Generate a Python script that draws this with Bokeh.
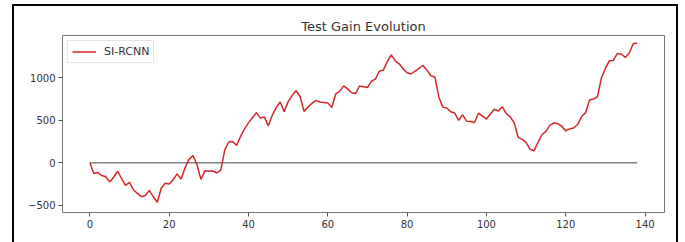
from bokeh.plotting import figure
from bokeh.models import Range1d, FixedTicker, Legend, LegendItem
from bokeh.embed import file_html
from bokeh.resources import INLINE

# ---- data ----
steps = list(range(139))
gain = [
    0, -125, -115, -150, -165, -225, -170, -100, -185, -265,
    -230, -320, -360, -400, -385, -325, -400, -465, -300, -240,
    -250, -200, -130, -190, -60, 40, 85, -20, -195, -95,
    -100, -95, -120, -90, 150, 245, 250, 205, 310, 400,
    470, 530, 590, 525, 540, 435, 560, 650, 715, 600,
    720, 790, 850, 780, 605, 655, 700, 735, 715, 710,
    705, 650, 810, 840, 905, 870, 825, 815, 905, 895,
    885, 960, 985, 1080, 1090, 1190, 1270, 1200, 1165, 1105,
    1060, 1045, 1080, 1110, 1145, 1090, 1025, 1010, 775, 655,
    645, 600, 585, 500, 565, 490, 485, 475, 585, 550,
    515, 575, 630, 610, 660, 580, 540, 470, 300, 275,
    240, 160, 140, 240, 330, 370, 440, 470, 460, 430,
    375, 400, 410, 450, 545, 590, 740, 750, 780, 1000,
    1110, 1200, 1205, 1285, 1280, 1240, 1290, 1400, 1410,
]
baseline_x = [0, 138]
baseline_y = [0, 0]
series_label = "SI-RCNN"
title_text = "Test Gain Evolution"
x_ticks = [0, 20, 40, 60, 80, 100, 120, 140]
y_ticks = [-500, 0, 500, 1000]
y_tick_labels = {-500: "\u2212500", 0: "0", 500: "500", 1000: "1000"}

FONT = "DejaVu Sans"

p = figure(
    width=666, height=238,
    output_backend="svg", toolbar_location=None,
    x_range=Range1d(-6.9, 144.9), y_range=Range1d(-585, 1498),
    title=title_text,
    min_border_left=48, min_border_right=16,
    min_border_top=29, min_border_bottom=32,
)
p.margin = (4, 0, 0, 12)
p.styles = {
    "border-left": "2px solid black",
    "border-top": "2px solid black",
    "border-right": "2px solid black",
}

p.title.align = "center"
p.title.text_font = FONT
p.title.text_font_size = "13px"
p.title.text_font_style = "normal"
p.title.text_color = "#333333"
p.title.offset = 0
p.title.standoff = 4

p.xgrid.visible = False
p.ygrid.visible = False
p.outline_line_color = "#777777"
p.outline_line_width = 1

for ax in (p.xaxis[0], p.yaxis[0]):
    ax.axis_line_color = None
    ax.major_tick_line_color = "#555555"
    ax.major_tick_out = 4
    ax.major_tick_in = 0
    ax.minor_tick_line_color = None
    ax.major_label_text_font = FONT
    ax.major_label_text_font_size = "10px"
    ax.major_label_text_color = "#333333"
    ax.major_label_standoff = 3

p.xaxis[0].ticker = FixedTicker(ticks=x_ticks)
p.yaxis[0].ticker = FixedTicker(ticks=y_ticks)
p.yaxis[0].major_label_overrides = y_tick_labels

p.line(baseline_x, baseline_y, line_color="#808080", line_width=1.5)
r = p.line(steps, gain, line_color="#d62728", line_width=1.5)

legend = Legend(items=[LegendItem(label=series_label, renderers=[r])],
                location="top_left")
legend.margin = 5
legend.padding = 4
legend.spacing = 0
legend.glyph_width = 24
legend.glyph_height = 13
legend.label_standoff = 8
legend.label_text_font = FONT
legend.label_text_font_size = "11px"
legend.label_text_color = "#333333"
legend.border_line_color = "#cccccc"
legend.background_fill_alpha = 0.8
p.add_layout(legend)

open("out.html", "w").write(file_html(p, INLINE))
